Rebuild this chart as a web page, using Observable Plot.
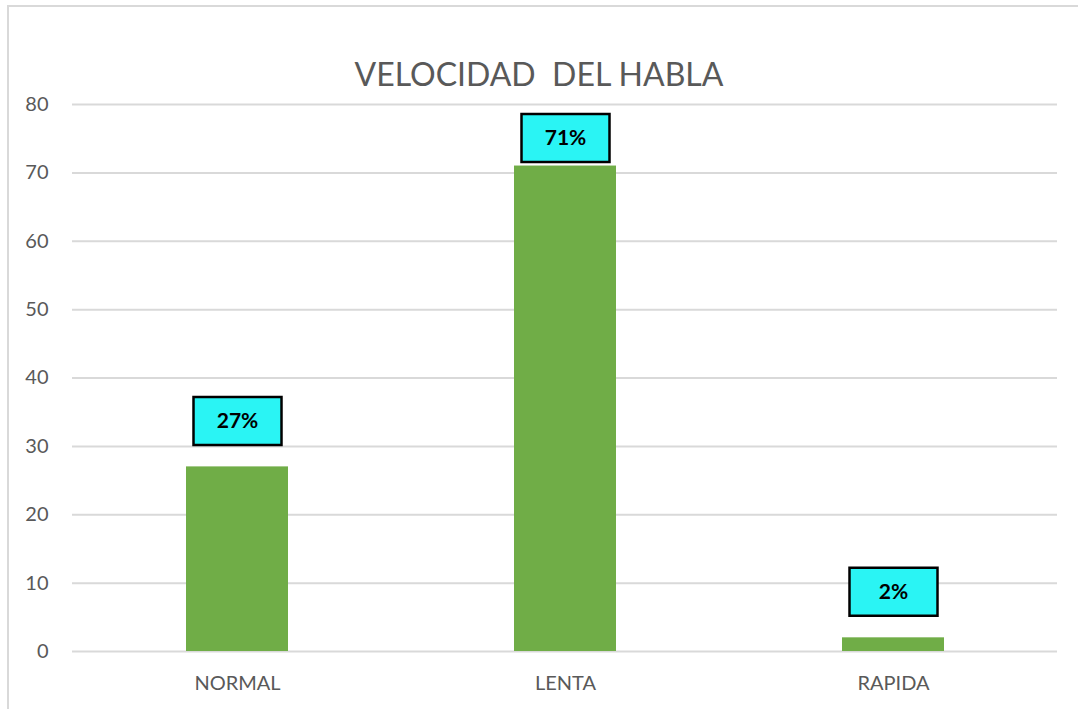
<!DOCTYPE html>
<html>
<head>
<meta charset="utf-8">
<script src="https://cdn.jsdelivr.net/npm/d3@7"></script>
<script src="https://cdn.jsdelivr.net/npm/@observablehq/plot@0.6"></script>
<style>
  html, body { margin: 0; padding: 0; background: #fff; }
  #wrap { position: relative; width: 1078px; height: 709px; overflow: hidden; font-family: Lato, "Liberation Sans", sans-serif; }
  #frame { position: absolute; left: 7px; top: 5px; right: -10px; bottom: -10px; border-top: 2px solid #d9d9d9; border-left: 2px solid #d9d9d9; pointer-events: none; }
  #title { position: absolute; left: 0; top: 54px; width: 1078px; text-align: center; font-size: 32px; color: #595959; white-space: pre; line-height: 40px; }
  #chart { position: absolute; left: 0; top: 0; }
</style>
</head>
<body>
<div id="wrap">
  <div id="chart"></div>
  <div id="title">VELOCIDAD  DEL HABLA</div>
  <div id="frame"></div>
</div>
<script>
const categories = ["NORMAL", "LENTA", "RAPIDA"];
const values = [27, 71, 2];
const labels = ["27%", "71%", "2%"];
const yTicks = [0, 10, 20, 30, 40, 50, 60, 70, 80];

const data = categories.map((c, i) => ({ cat: c, value: values[i], label: labels[i] }));

const boxSymbol = {
  draw(context) {
    context.rect(-44, -24, 88, 48);
  }
};

// labels that would overflow the plot top are pulled closer to the bar (as the original does)
const near = d => d.value > 65;
const far = d => !near(d);

const labelMarks = (filter, dy) => [
  Plot.dot(data, { filter, x: "cat", y: "value", dy, symbol: boxSymbol, r: 10, fill: "#2af4f4", stroke: "#000", strokeWidth: 2.5 }),
  Plot.text(data, { filter, x: "cat", y: "value", dy, text: "label", fontSize: 21, fontWeight: "bold", fill: "#000" })
];

const chart = Plot.plot({
  width: 1078,
  height: 709,
  marginLeft: 72,
  marginRight: 21,
  marginTop: 104,
  marginBottom: 58,
  style: { fontFamily: "Lato, 'Liberation Sans', sans-serif", fontSize: "20px", color: "#595959", background: "transparent" },
  x: { domain: categories, paddingInner: 0.69, paddingOuter: 0.345, label: null },
  y: { domain: [0, 80], ticks: yTicks, label: null },
  marks: [
    Plot.gridY(yTicks, { stroke: "#d9d9d9", strokeOpacity: 1, strokeWidth: 2 }),
    Plot.barY(data, { x: "cat", y: "value", fill: "#70ad47" }),
    Plot.axisY(yTicks, { tickSize: 0, tickPadding: 24, fontSize: 20, fill: "#595959", label: null }),
    Plot.axisX({ tickSize: 0, tickPadding: 24, fontSize: 20, fill: "#595959", label: null }),
    ...labelMarks(far, -46),
    ...labelMarks(near, -28)
  ]
});
document.getElementById("chart").appendChild(chart);
</script>
</body>
</html>
